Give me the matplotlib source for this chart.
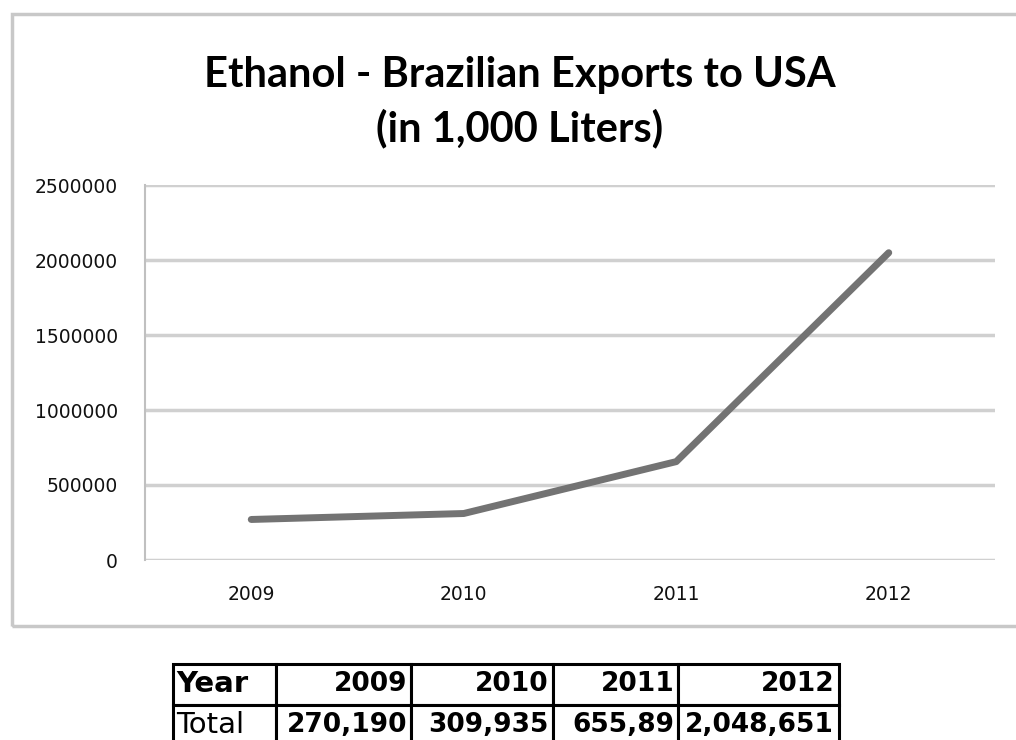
import matplotlib.pyplot as plt
from matplotlib.patches import Rectangle

years = ['2009', '2010', '2011', '2012']
exports = [270190, 309935, 655890, 2048651]
table_header = ['Year', '2009', '2010', '2011', '2012']
table_row = ['Total', '270,190', '309,935', '655,89', '2,048,651']
y_ticks = [0, 500000, 1000000, 1500000, 2000000, 2500000]

W, H = 1016, 740
fig = plt.figure(figsize=(W / 100, H / 100), dpi=100)

# outer chart frame
fig.patches.append(Rectangle((12 / W, 1 - 626 / H), 1.1, (626 - 14) / H,
                             transform=fig.transFigure, facecolor='none',
                             edgecolor='#c8c8c8', linewidth=2.5, zorder=-1))

ax = fig.add_axes([145 / W, 1 - 560 / H, 850 / W, 375 / H])
ax.set_facecolor('none')
ax.plot(range(len(years)), exports, color='#737373', linewidth=5,
        solid_capstyle='round', solid_joinstyle='round', zorder=3)
ax.set_xlim(-0.5, len(years) - 0.5)
ax.set_ylim(0, 2500000)
ax.set_yticks(y_ticks)
ax.set_yticklabels([str(v) for v in y_ticks])
ax.set_xticks(range(len(years)))
ax.set_xticklabels(years)
ax.grid(axis='y', color='#d0d0d0', linewidth=2.5)
ax.set_axisbelow(True)
for s in ['top', 'right', 'bottom']:
    ax.spines[s].set_visible(False)
ax.spines['left'].set_color('#c0c0c0')
ax.spines['left'].set_linewidth(1.5)
ax.tick_params(axis='both', length=0, labelsize=13.5, labelcolor='#111111')
ax.tick_params(axis='y', pad=19.5)
ax.tick_params(axis='x', pad=18)

fig.text(520 / W, 1 - 75 / H, 'Ethanol - Brazilian Exports to USA',
         ha='center', va='center', fontsize=30, fontweight='bold',
         family='Lato')
fig.text(520 / W, 1 - 128 / H, '(in 1,000 Liters)',
         ha='center', va='center', fontsize=30, fontweight='bold',
         family='Lato')

# data table below the chart
col_edges = [173, 276, 411, 553, 678, 839]
tax = fig.add_axes([0, 0, 1, 1])
tax.axis('off')
tbl = tax.table(cellText=[table_header, table_row],
                colWidths=[(col_edges[i + 1] - col_edges[i]) / W for i in range(5)],
                bbox=[173 / W, 1 - 746 / H, (839 - 173) / W, (746 - 664) / H],
                cellLoc='right')
tbl.auto_set_font_size(False)
for (r, c), cell in tbl.get_celld().items():
    cell.set_edgecolor('black')
    cell.set_linewidth(2.2)
    txt = cell.get_text()
    txt.set_fontsize(19)
    txt.set_fontweight('bold')
    txt.set_family('DejaVu Sans')
    cell.PAD = 0.03
    if c == 0:
        txt.set_ha('left')
        cell._loc = 'left'
    if r == 0 and c == 0:
        txt.set_fontsize(21)
    if r == 1 and c == 0:
        txt.set_fontweight('normal')
        txt.set_family('Liberation Sans Narrow')
        txt.set_fontsize(21)

fig.savefig('out.png', dpi=100)
